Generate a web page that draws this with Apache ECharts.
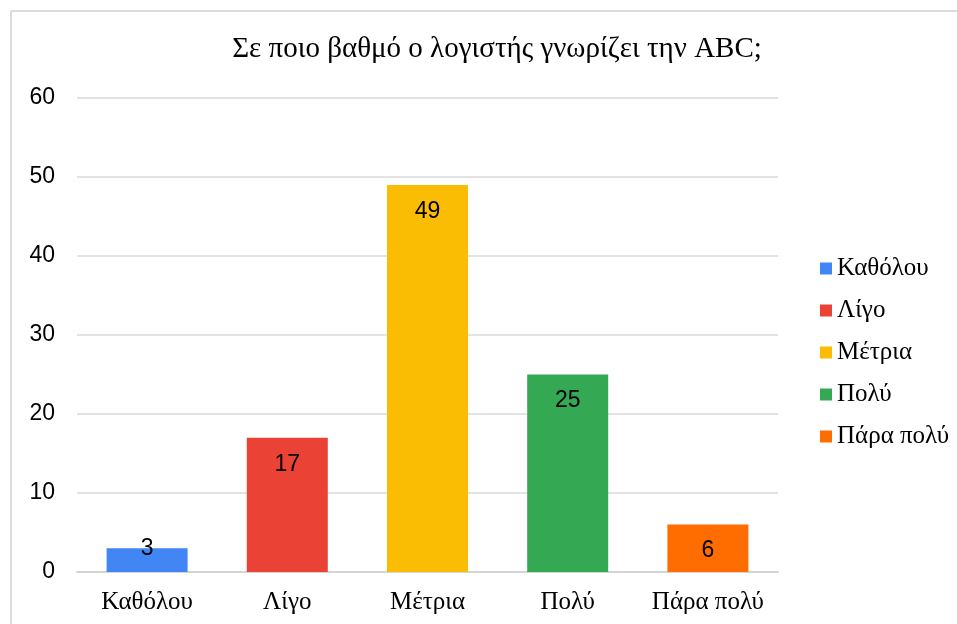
<!DOCTYPE html>
<html>
<head>
<meta charset="utf-8">
<script src="https://cdn.jsdelivr.net/npm/echarts@6/dist/echarts.min.js"></script>
<style>
  html, body { margin: 0; padding: 0; background: #fff; }
  #chart { width: 957px; height: 624px; }
</style>
</head>
<body>
<div id="chart"></div>
<script>
// Κατηγορίες και τιμές
const categories = ['Καθόλου', 'Λίγο', 'Μέτρια', 'Πολύ', 'Πάρα πολύ'];
const values = [3, 17, 49, 25, 6];
const barColors = ['#4285f4', '#ea4335', '#fbbc04', '#34a853', '#ff6d01'];
const yTicks = [0, 10, 20, 30, 40, 50, 60];

const serif = '"Liberation Serif", "DejaVu Serif", serif';
const sans = '"Liberation Sans", Arial, sans-serif';

// one series per category so the legend lists each one
const series = categories.map((name, i) => {
  const data = categories.map((c, j) => (j === i ? values[i] : '-'));
  const small = values[i] < 5;
  return {
    name,
    type: 'bar',
    stack: 'all',
    barWidth: 81,
    data,
    itemStyle: { color: barColors[i] },
    label: {
      show: true,
      position: small ? 'top' : 'insideTop',
      distance: small ? -12 : 15,
      color: '#000',
      fontFamily: sans,
      fontSize: 23
    }
  };
});

const chart = echarts.init(document.getElementById('chart'));
chart.setOption({
  animation: false,
  title: {
    text: 'Σε ποιο βαθμό ο λογιστής γνωρίζει την ABC;',
    left: 492,
    textAlign: 'center',
    top: 30,
    textStyle: { fontFamily: serif, fontSize: 29, fontWeight: 'normal', color: '#000' }
  },
  legend: {
    orient: 'vertical',
    left: 820,
    top: 256,
    padding: 0,
    itemWidth: 12,
    itemHeight: 12,
    itemGap: 17,
    icon: 'rect',
    data: categories,
    textStyle: { fontFamily: serif, fontSize: 25, lineHeight: 25, color: '#000' }
  },
  grid: { left: 77, right: 179, top: 98, bottom: 52 },
  xAxis: {
    type: 'category',
    data: categories,
    axisTick: { show: false },
    axisLine: { lineStyle: { color: '#d4d4d4', width: 2 } },
    axisLabel: { interval: 0, margin: 18, fontFamily: serif, fontSize: 25, color: '#000' }
  },
  yAxis: {
    type: 'value',
    min: yTicks[0],
    max: yTicks[yTicks.length - 1],
    interval: 10,
    axisLine: { show: false },
    axisTick: { show: false },
    splitLine: { lineStyle: { color: '#dadada', width: 1.5 } },
    axisLabel: { margin: 22, fontFamily: sans, fontSize: 23, color: '#000' }
  },
  graphic: [
    { type: 'line', shape: { x1: 11, y1: 11, x2: 957, y2: 11 }, style: { stroke: '#dcdcdc', lineWidth: 2 } },
    { type: 'line', shape: { x1: 11, y1: 11, x2: 11, y2: 624 }, style: { stroke: '#dcdcdc', lineWidth: 2 } }
  ],
  series
});
</script>
</body>
</html>
